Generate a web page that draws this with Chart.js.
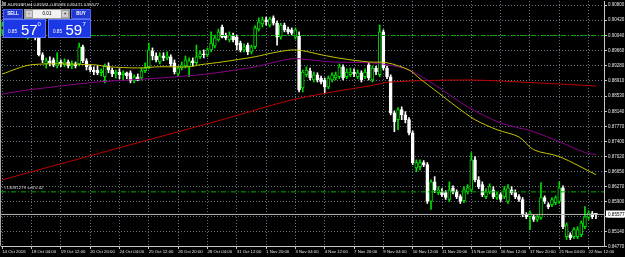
<!DOCTYPE html>
<html><head><meta charset="utf-8">
<script src="https://cdn.jsdelivr.net/npm/chart.js@4.4.1/dist/chart.umd.min.js"></script>
<style>html,body{margin:0;padding:0;background:#000;overflow:hidden}canvas{display:block}</style>
</head><body>
<canvas id="c" width="625" height="257"></canvas>
<script>
// ---------- DATA ----------
const symbolTitle = 'EURGBP,H4 0.85581 0.85593 0.85471 0.85577';
const timeLabels = ['14 Oct 2016','18 Oct 04:00','19 Oct 12:00','20 Oct 20:00','24 Oct 04:00','25 Oct 12:00','26 Oct 20:00','28 Oct 04:00','31 Oct 12:00','1 Nov 20:00','3 Nov 04:00','4 Nov 12:00','7 Nov 20:00','9 Nov 04:00','10 Nov 12:00','11 Nov 20:00','15 Nov 04:00','16 Nov 12:00','17 Nov 20:00','21 Nov 04:00','22 Nov 12:00'];
const timeLabelBars = [0,8,16,24,32,40,48,56,64,72,80,88,96,104,112,120,128,136,144,152,160];
const priceTicks = [0.90800,0.90420,0.90040,0.89660,0.89280,0.88910,0.88530,0.88140,0.87770,0.87400,0.87020,0.86650,0.86270,0.85900,0.85520,0.85140,0.84770];

const opens = [
0.9018,0.9028,0.9020,0.9033,0.9025,0.9015,0.9023,0.9003,0.9010,0.9015,
0.8998,0.8956,0.8933,0.8941,0.8943,0.8928,0.8938,0.8931,0.8938,0.8928,
0.8933,0.8933,0.8976,0.8941,0.8926,0.8918,0.8918,0.8911,0.8901,0.8928,
0.8918,0.8908,0.8913,0.8906,0.8911,0.8911,0.8891,0.8901,0.8898,0.8916,
0.8926,0.8966,0.8953,0.8938,0.8953,0.8948,0.8951,0.8936,0.8908,0.8923,
0.8928,0.8926,0.8941,0.8936,0.8951,0.8958,0.8956,0.8968,0.8978,0.8993,
0.9025,0.9005,0.8993,0.9005,0.9000,0.8985,0.8968,0.8980,0.8963,0.8976,
0.9020,0.9033,0.9043,0.9030,0.9048,0.9035,0.9000,0.9030,0.9020,0.9018,
0.9000,0.9003,0.8873,0.8906,0.8916,0.8893,0.8906,0.8898,0.8893,0.8876,
0.8893,0.8898,0.8901,0.8926,0.8901,0.8906,0.8913,0.8901,0.8911,0.8901,
0.8931,0.8893,0.8923,0.8906,0.9013,0.8923,0.8901,0.8811,0.8794,0.8819,
0.8806,0.8794,0.8761,0.8674,0.8677,0.8687,0.8682,0.8590,0.8639,0.8612,
0.8614,0.8612,0.8595,0.8624,0.8614,0.8602,0.8592,0.8614,0.8619,0.8694,
0.8644,0.8632,0.8602,0.8614,0.8619,0.8600,0.8607,0.8602,0.8590,0.8619,
0.8612,0.8602,0.8595,0.8557,0.8552,0.8552,0.8545,0.8550,0.8600,0.8582,
0.8582,0.8587,0.8590,0.8624,0.8502,0.8507,0.8502,0.8502,0.8507,0.8527,
0.8550,0.8560,0.85581];
const highs = [
0.9038,0.9033,0.9043,0.9040,0.9030,0.9028,0.9030,0.9023,0.9025,0.9020,
0.9000,0.8961,0.8948,0.8951,0.8948,0.8961,0.8943,0.8946,0.8943,0.8941,
0.8938,0.8985,0.8980,0.8946,0.8931,0.8926,0.8928,0.8921,0.8933,0.8936,
0.8923,0.8918,0.8921,0.8916,0.8913,0.8916,0.8906,0.8908,0.8923,0.8936,
0.8985,0.8973,0.8961,0.8961,0.8961,0.8963,0.8956,0.8943,0.8928,0.8938,
0.8953,0.8948,0.8948,0.8980,0.8966,0.8968,0.8973,0.9013,0.9005,0.9020,
0.9030,0.9010,0.9013,0.9010,0.9005,0.8990,0.8983,0.8985,0.8980,0.9028,
0.9048,0.9050,0.9050,0.9050,0.9053,0.9040,0.9035,0.9035,0.9025,0.9023,
0.9023,0.9013,0.8918,0.8926,0.8923,0.8913,0.8911,0.8903,0.8898,0.8903,
0.8911,0.8913,0.8933,0.8931,0.8921,0.8923,0.8921,0.8918,0.8916,0.8921,
0.8936,0.8928,0.8928,0.9030,0.9018,0.8928,0.8906,0.8816,0.8824,0.8826,
0.8814,0.8799,0.8766,0.8694,0.8694,0.8692,0.8687,0.8644,0.8652,0.8627,
0.8622,0.8617,0.8639,0.8629,0.8619,0.8607,0.8627,0.8632,0.8712,0.8702,
0.8652,0.8639,0.8622,0.8634,0.8627,0.8614,0.8612,0.8627,0.8632,0.8627,
0.8619,0.8607,0.8600,0.8562,0.8567,0.8557,0.8557,0.8637,0.8604,0.8587,
0.8600,0.8604,0.8639,0.8629,0.8537,0.8512,0.8525,0.8527,0.8542,0.8577,
0.8567,0.8565,0.85593];
const lows = [
0.9008,0.9010,0.9015,0.9013,0.9005,0.9005,0.9003,0.8995,0.8998,0.8993,
0.8953,0.8936,0.8923,0.8928,0.8926,0.8923,0.8926,0.8926,0.8923,0.8921,
0.8923,0.8928,0.8936,0.8918,0.8913,0.8906,0.8906,0.8903,0.8886,0.8911,
0.8901,0.8898,0.8896,0.8893,0.8896,0.8886,0.8886,0.8891,0.8893,0.8911,
0.8921,0.8943,0.8938,0.8933,0.8941,0.8943,0.8928,0.8908,0.8901,0.8918,
0.8923,0.8901,0.8928,0.8931,0.8946,0.8948,0.8951,0.8963,0.8973,0.8990,
0.8998,0.8993,0.8988,0.8988,0.8968,0.8963,0.8963,0.8956,0.8958,0.8971,
0.9015,0.9025,0.9030,0.9025,0.9030,0.8980,0.8995,0.9013,0.9008,0.9005,
0.8995,0.8863,0.8863,0.8901,0.8893,0.8888,0.8888,0.8883,0.8861,0.8871,
0.8888,0.8893,0.8896,0.8893,0.8896,0.8901,0.8901,0.8896,0.8888,0.8896,
0.8893,0.8888,0.8906,0.8901,0.8918,0.8896,0.8806,0.8764,0.8769,0.8794,
0.8786,0.8756,0.8682,0.8664,0.8669,0.8677,0.8585,0.8570,0.8612,0.8607,
0.8602,0.8595,0.8590,0.8609,0.8597,0.8585,0.8587,0.8609,0.8614,0.8639,
0.8622,0.8602,0.8597,0.8609,0.8597,0.8595,0.8590,0.8597,0.8585,0.8607,
0.8597,0.8590,0.8552,0.8547,0.8520,0.8540,0.8540,0.8545,0.8585,0.8572,
0.8577,0.8582,0.8585,0.8522,0.8495,0.8495,0.8497,0.8497,0.8502,0.8522,
0.8545,0.8547,0.85471];
const closes = [
0.9028,0.9020,0.9033,0.9025,0.9015,0.9023,0.9013,0.9015,0.9018,0.8998,
0.8956,0.8943,0.8941,0.8936,0.8931,0.8938,0.8933,0.8938,0.8928,0.8933,
0.8928,0.8976,0.8941,0.8926,0.8918,0.8913,0.8911,0.8916,0.8928,0.8918,
0.8908,0.8913,0.8906,0.8911,0.8903,0.8891,0.8901,0.8896,0.8916,0.8923,
0.8968,0.8953,0.8943,0.8953,0.8948,0.8953,0.8933,0.8913,0.8923,0.8931,
0.8943,0.8941,0.8936,0.8951,0.8958,0.8956,0.8968,0.8985,0.8998,0.9013,
0.9000,0.8998,0.9005,0.8993,0.8980,0.8968,0.8976,0.8963,0.8976,0.9023,
0.9038,0.9043,0.9038,0.9045,0.9035,0.9000,0.9030,0.9018,0.9013,0.9010,
0.9018,0.8868,0.8913,0.8918,0.8898,0.8906,0.8893,0.8888,0.8876,0.8898,
0.8906,0.8906,0.8926,0.8898,0.8913,0.8913,0.8908,0.8911,0.8893,0.8913,
0.8898,0.8923,0.8913,0.9013,0.8923,0.8901,0.8811,0.8789,0.8819,0.8806,
0.8794,0.8761,0.8687,0.8687,0.8687,0.8682,0.8590,0.8639,0.8619,0.8619,
0.8607,0.8600,0.8619,0.8614,0.8602,0.8590,0.8619,0.8624,0.8694,0.8644,
0.8627,0.8607,0.8614,0.8627,0.8602,0.8607,0.8595,0.8619,0.8624,0.8612,
0.8602,0.8595,0.8557,0.8552,0.8562,0.8545,0.8552,0.8600,0.8590,0.8577,
0.8595,0.8600,0.8624,0.8527,0.8532,0.8500,0.8520,0.8520,0.8537,0.8552,
0.8562,0.8552,0.85577];

// moving averages: vertices read at these bars
const maYellowBars   = [0,8,25,29,37,43,51,54,60,69,74,79,82,87,93,100,105,111,114,118,124,129,135,141,145,152,162];
const maYellowValues = [0.8908,0.8931,0.8931,0.8926,0.8923,0.8926,0.8926,0.8931,0.8938,0.8951,0.8961,0.8968,0.8966,0.8956,0.8946,0.8938,0.8936,0.8918,0.8896,0.8868,0.8826,0.8794,0.8769,0.8751,0.8719,0.8702,0.8657];
const maPurpleBars   = [0,7,26,40,54,60,69,79,84,90,100,105,111,118,127,136,145,152,159,162];
const maPurpleValues = [0.8858,0.8868,0.8888,0.8896,0.8906,0.8913,0.8926,0.8946,0.8943,0.8938,0.8936,0.8931,0.8918,0.8881,0.8826,0.8786,0.8764,0.8739,0.8712,0.8707];
const maRedBars      = [0,20,40,60,78,90,100,106,127,141,152,162];
const maRedValues    = [0.8644,0.8694,0.8744,0.8794,0.8841,0.8863,0.8878,0.8888,0.8893,0.8888,0.8883,0.8878];

const tpLevel = 0.90040;
const orderLevel = 0.86140;
const orderLabel = '#13091279 sell 0.02';
const bidPrice = 0.85577;
const lotSize = '0.01';
const sellQuote = ['0.85','57','0'];
const buyQuote = ['0.85','59','7'];

// ---------- CHART ----------
const X_MIN = -0.33, X_MAX = 164.2;
const UP = '#00e000', DOWN = '#ffffff';
const isUp = opens.map((o,i)=>closes[i] >= o);
const FONT = '"Liberation Sans", Arial, sans-serif';

const bodies = opens.map((o,i)=>({x:i, y:[o, closes[i]]}));
const wicks = lows.map((l,i)=>({x:i, y:[l, highs[i]]}));
const toPts = (bars, vals)=>bars.map((b,i)=>({x:b, y:vals[i]}));
const hline = v=>[{x:X_MIN,y:v},{x:X_MAX,y:v}];

const bg = {id:'bg', beforeDraw(ch){const c=ch.ctx;c.save();c.fillStyle='#000';c.fillRect(0,0,ch.width,ch.height);c.restore();}};

const overlay = {id:'overlay', afterDraw(ch){
  const c = ch.ctx, ys = ch.scales.y, ca = ch.chartArea;
  c.save();
  c.strokeStyle='#a8a8a8'; c.lineWidth=1;
  c.beginPath(); c.moveTo(0.5,0); c.lineTo(0.5,ca.bottom); c.stroke();
  const yo = ys.getPixelForValue(orderLevel);
  c.font='4.4px '+FONT; c.fillStyle='#d8d8d8'; c.textAlign='left'; c.textBaseline='bottom';
  c.fillText(orderLabel, 4, yo-1.5);
  const yb = ys.getPixelForValue(bidPrice);
  c.fillStyle='#ffffff'; c.fillRect(ca.right+2, Math.round(yb)-3.5, 21, 7);
  c.fillStyle='#000'; c.font='4.6px '+FONT; c.textBaseline='middle';
  c.fillText(bidPrice.toFixed(5), ca.right+4, yb);
  c.fillStyle='#7f7f7f'; c.fillRect(2,2,4,4);
  c.fillStyle='#e0e0e0'; c.font='4.3px '+FONT; c.textBaseline='middle';
  c.fillText(symbolTitle, 8, 5);
  function box(x,y,w,h,fill,edge){c.fillStyle=fill;c.fillRect(x,y,w,h);c.strokeStyle=edge;c.lineWidth=1;c.strokeRect(x+0.5,y+0.5,w-1,h-1);}
  box(3,9,20,10,'#2137cf','#4d63ee');
  box(24,9,46,10,'#f2f2f2','#9a9a9a');
  box(25,10,8,8,'#cfcfcf','#a0a0a0');
  box(61,10,8,8,'#cfcfcf','#a0a0a0');
  box(71,9,20,10,'#2137cf','#4d63ee');
  box(3,19,43,19,'#1c38e4','#5a74ff');
  box(48,19,43,19,'#1c38e4','#5a74ff');
  c.textAlign='center'; c.textBaseline='middle';
  c.fillStyle='#ffffff'; c.font='bold 4.6px '+FONT;
  c.fillText('SELL',13,14.2); c.fillText('BUY',81,14.2);
  c.fillStyle='#000'; c.font='4.6px '+FONT;
  c.fillText('-',29,14); c.fillText('+',65,14); c.fillText(lotSize,47,14.2);
  c.textAlign='left'; c.textBaseline='alphabetic'; c.fillStyle='#ffffff';
  c.font='4.6px '+FONT; c.fillText(sellQuote[0],8,33); c.fillText(buyQuote[0],53,33);
  c.font='15px '+FONT; c.fillText(sellQuote[1],21,34.5); c.fillText(buyQuote[1],65.5,34.5);
  c.font='6px '+FONT; c.fillText(sellQuote[2],37.5,26); c.fillText(buyQuote[2],82.5,26);
  c.restore();
}};

const gridColor = 'rgba(119,136,153,0.85)';
new Chart(document.getElementById('c'), {
  data: {datasets: [
    {type:'line', data:hline(tpLevel), borderColor:'#00b000', borderWidth:1, borderDash:[5,2,1,2], pointRadius:0, order:1},
    {type:'line', data:hline(orderLevel), borderColor:'#00b000', borderWidth:1, borderDash:[5,2,1,2], pointRadius:0, order:1},
    {type:'line', data:hline(bidPrice), borderColor:'#b4b4b4', borderWidth:1, pointRadius:0, order:1},
    {type:'line', data:toPts(maYellowBars,maYellowValues), borderColor:'#c4c400', borderWidth:1, pointRadius:0, tension:0.3, order:2},
    {type:'line', data:toPts(maPurpleBars,maPurpleValues), borderColor:'#8a008a', borderWidth:1, pointRadius:0, tension:0.3, order:2},
    {type:'line', data:toPts(maRedBars,maRedValues), borderColor:'#c00000', borderWidth:1, pointRadius:0, tension:0.3, order:2},
    {type:'bar', data:bodies, grouped:false, barThickness:3, minBarLength:1, borderSkipped:false, borderWidth:1,
      backgroundColor:isUp.map(u=>u?'#000000':DOWN), borderColor:isUp.map(u=>u?UP:DOWN), order:3},
    {type:'bar', data:wicks, grouped:false, barThickness:1, borderWidth:0,
      backgroundColor:isUp.map(u=>u?UP:DOWN), order:4}
  ]},
  options: {
    responsive:false, animation:false, devicePixelRatio:1,
    layout:{padding:{left:1, top:1, right:0, bottom:0}},
    plugins:{legend:{display:false}, tooltip:{enabled:false}},
    scales:{
      x:{type:'linear', min:X_MIN, max:X_MAX, offset:false, bounds:'data',
        afterBuildTicks(s){ s.ticks = timeLabelBars.map(v=>({value:v})); },
        afterFit(s){ s.height = 11; s.paddingLeft = 0; s.paddingRight = 0; },
        ticks:{autoSkip:false, maxRotation:0, minRotation:0, align:'start', padding:0.5, color:'#e6e6e6',
          font:{family:FONT, size:4.3}, callback:(v,i)=>timeLabels[i]},
        grid:{offset:false, color:gridColor, lineWidth:1, drawTicks:true, tickLength:3, tickColor:'#c8c8c8'},
        border:{display:true, color:'#c8c8c8', width:1, dash:[1,2]}
      },
      y:{type:'linear', position:'right', min:0.8479, max:0.9090,
        afterBuildTicks(s){ s.ticks = priceTicks.map(v=>({value:v})); },
        afterFit(s){ s.width = 21; s.paddingTop = 0; s.paddingBottom = 0; },
        ticks:{autoSkip:false, padding:1, color:'#e6e6e6', font:{family:FONT, size:4.5}, callback:v=>Number(v).toFixed(5)},
        grid:{color:gridColor, lineWidth:1, drawTicks:true, tickLength:3, tickColor:'#c8c8c8'},
        border:{display:true, color:'#c8c8c8', width:1, dash:[1,2]}
      }
    }
  },
  plugins:[bg, overlay]
});
</script>
</body></html>
